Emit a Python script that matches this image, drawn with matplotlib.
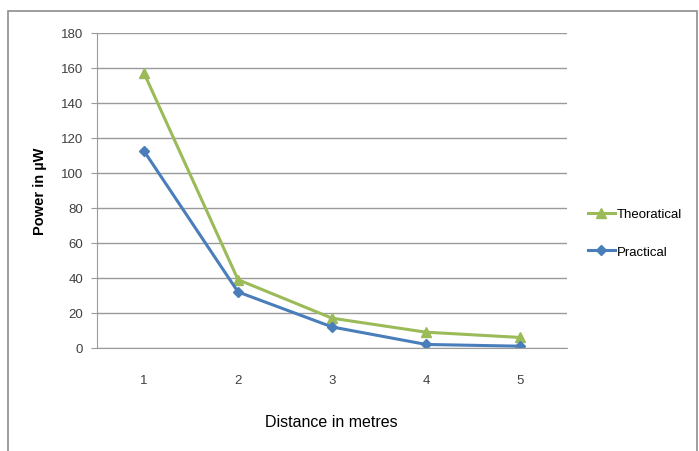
import matplotlib.pyplot as plt
from matplotlib.patches import Rectangle

plt.rcParams['font.family'] = ['Liberation Sans', 'DejaVu Sans']

# datos
distance = [1, 2, 3, 4, 5]
theoretical = [157, 39, 17, 9, 6]
practical = [112.5, 32, 12, 2, 1]
yticks = [0, 20, 40, 60, 80, 100, 120, 140, 160, 180]

fig = plt.figure(figsize=(6.99, 4.52), dpi=100)
ax = fig.add_axes([0.1388, 0.228, 0.6724, 0.697])

# borde exterior del grafico
fig.patches.append(Rectangle((0.012, -0.01), 0.985, 0.984, transform=fig.transFigure,
                             fill=False, edgecolor='#8c8c8c', linewidth=1.2))

ax.plot(distance, theoretical, color='#9BBB59', linewidth=2.2, marker='^',
        markersize=7, label='Theoratical')
ax.plot(distance, practical, color='#4A7EBB', linewidth=2.2, marker='D',
        markersize=5.5, label='Practical')

ax.set_xlim(0.5, 5.5)
ax.set_ylim(0, 180)
ax.set_yticks(yticks)
ax.set_xticks(distance)
ax.grid(axis='y', color='#9a9a9a', linewidth=1)
ax.set_axisbelow(True)

for s in ['top', 'right']:
    ax.spines[s].set_visible(False)
ax.spines['left'].set_color('#9a9a9a')
ax.spines['bottom'].set_color('#9a9a9a')
ax.tick_params(axis='y', length=4, color='#9a9a9a', labelsize=9.5, labelcolor='#404040', pad=6)
ax.tick_params(axis='x', length=0, labelsize=9.5, labelcolor='#404040', pad=19)

ax.set_ylabel('Power in µW', fontsize=10.5, fontweight='bold', va='center')
ax.yaxis.set_label_coords(-0.121, 0.5)
ax.set_xlabel('Distance in metres', fontsize=11.5, va='center')
ax.xaxis.set_label_coords(0.498, -0.232)

ax.legend(loc='center left', bbox_to_anchor=(1.045, 0.365), frameon=False,
          fontsize=9.5, handlelength=2.0, handletextpad=0.2, labelspacing=1.9,
          borderaxespad=0, borderpad=0)

plt.savefig('out.png', dpi=100)
plt.close()
